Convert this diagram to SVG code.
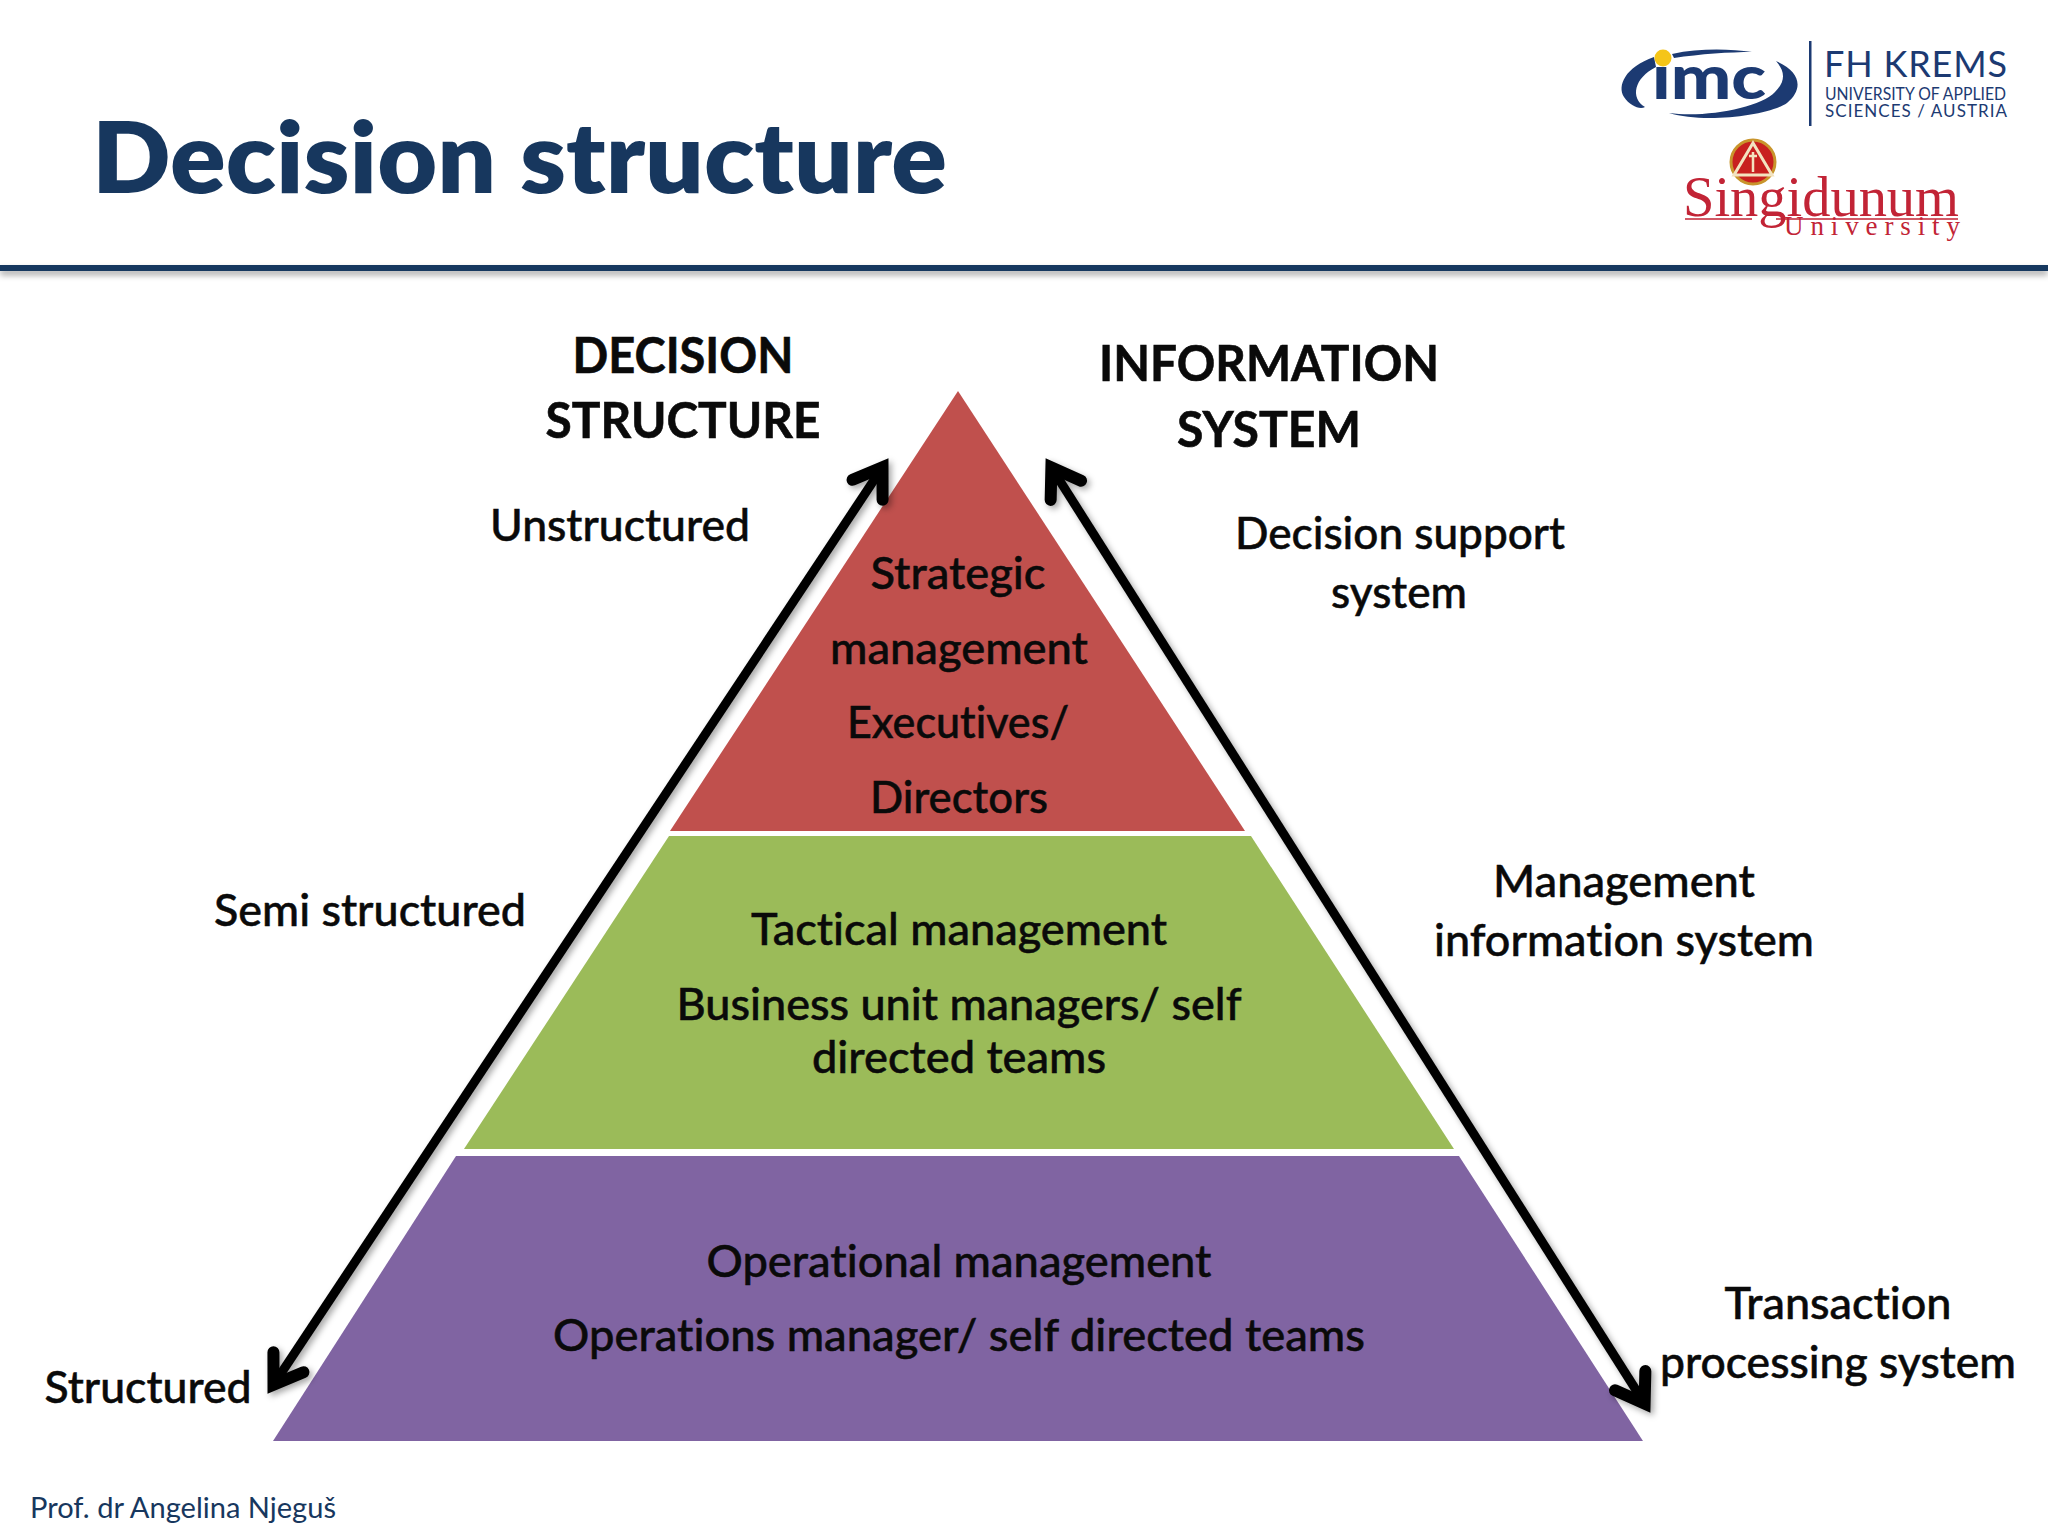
<svg xmlns="http://www.w3.org/2000/svg" width="2048" height="1536" viewBox="0 0 2048 1536">
<style>
text{font-family:"Lato","Noto Sans","Liberation Sans",sans-serif;fill:#0a0a0a;font-variant-ligatures:none}
.l{font-size:44px;font-weight:500;text-anchor:middle;stroke:#0a0a0a;stroke-width:.5px}
.h{font-size:49px;font-weight:700;text-anchor:middle;stroke:#0a0a0a;stroke-width:.6px}
.logo{font-family:"Lato","Liberation Sans",sans-serif;fill:#1c3a72}
.s{font-family:"Liberation Serif",serif;fill:#c22436}
</style>
<defs>
<filter id="sh" x="-10%" y="-10%" width="120%" height="120%"><feDropShadow dx="3" dy="3" stdDeviation="3" flood-color="#000" flood-opacity=".35"/></filter>
<filter id="ls" x="-5%" y="-200%" width="110%" height="500%"><feDropShadow dx="0" dy="4" stdDeviation="3" flood-color="#000" flood-opacity=".35"/></filter>
<marker id="head" markerUnits="userSpaceOnUse" markerWidth="70" markerHeight="70" viewBox="-45 -35 70 70" refX="0" refY="0" orient="auto-start-reverse">
<path d="M-27,-18 L0,0 L-27,18" fill="none" stroke="#000" stroke-width="12" stroke-linecap="round" stroke-linejoin="miter"/>
</marker>
</defs>
<rect width="2048" height="1536" fill="#fff"/>
<rect id="header-rule" x="0" y="265" width="2048" height="6" fill="#17375e" filter="url(#ls)"/>
<text id="title" x="92" y="193" font-size="98" font-weight="800" style="fill:#17375e" textLength="855" lengthAdjust="spacingAndGlyphs">Decision structure</text>

<g id="logo-imc">
<path d="M1654,57 C1625,67 1617,86 1624,97 C1630,106 1640,110 1645,107 C1630,98 1634,78 1656,67 Z" fill="#1c3a72"/>
<path d="M1672,54 C1700,48 1730,49 1752,52 C1730,52 1700,54 1674,58 Z" fill="#1c3a72"/>
<path d="M1776,61 C1802,72 1803,90 1787,103 C1770,115 1705,124 1669,113 C1705,118 1760,108 1775,92 C1786,81 1785,71 1776,61 Z" fill="#1c3a72"/>
<text class="logo" x="1652" y="99" font-size="60" font-weight="900" textLength="114" lengthAdjust="spacingAndGlyphs">imc</text>
<circle cx="1663" cy="58" r="8.5" fill="#f5c518"/>
<rect x="1809" y="41" width="2.5" height="85" fill="#1c3a72"/>
<text class="logo" x="1824" y="77" font-size="36" font-weight="400" textLength="183" lengthAdjust="spacing">FH KREMS</text>
<text class="logo" x="1825" y="100" font-size="17" textLength="181" lengthAdjust="spacingAndGlyphs">UNIVERSITY OF APPLIED</text>
<text class="logo" x="1825" y="117" font-size="17" textLength="182" lengthAdjust="spacing">SCIENCES / AUSTRIA</text>
</g>

<g id="logo-singidunum">
<circle cx="1753" cy="162" r="22" fill="#c8201f" stroke="#c9952c" stroke-width="3"/>
<path d="M1753,143 L1772,175 L1734,175 Z" fill="none" stroke="#f3e3c0" stroke-width="3"/>
<path d="M1753,152 L1753,172 M1749,156 L1757,156" stroke="#f3e3c0" stroke-width="2.5" fill="none"/>
<text class="s" x="1683" y="216" font-size="58" textLength="276" lengthAdjust="spacingAndGlyphs">Singidunum</text>
<path d="M1685,219 H1752 M1776,219 H1958" stroke="#c22436" stroke-width="1.5" fill="none"/>
<text class="s" x="1784" y="235" font-size="27" textLength="176" lengthAdjust="spacing">University</text>
</g>

<g id="tier-strategic">
<path d="M958,391 L1245,831 H670 Z" fill="#c0504d"/>
<text class="l" x="958" y="589" textLength="175" lengthAdjust="spacingAndGlyphs">Strategic</text>
<text class="l" x="959" y="664" textLength="258" lengthAdjust="spacingAndGlyphs">management</text>
<text class="l" x="958" y="738" textLength="222" lengthAdjust="spacingAndGlyphs">Executives/</text>
<text class="l" x="959" y="813" textLength="178" lengthAdjust="spacingAndGlyphs">Directors</text>
</g>
<g id="tier-tactical">
<path d="M669,836 H1251 L1454,1149 H464 Z" fill="#9bbb59"/>
<text class="l" x="959" y="945" textLength="416" lengthAdjust="spacingAndGlyphs">Tactical management</text>
<text class="l" x="959" y="1020" textLength="565" lengthAdjust="spacingAndGlyphs">Business unit managers/ self</text>
<text class="l" x="959" y="1073" textLength="294" lengthAdjust="spacingAndGlyphs">directed teams</text>
</g>
<g id="tier-operational">
<path d="M456,1156 H1459 L1643,1441 H273 Z" fill="#8064a2"/>
<text class="l" x="959" y="1277" textLength="505" lengthAdjust="spacingAndGlyphs">Operational management</text>
<text class="l" x="959" y="1351" textLength="812" lengthAdjust="spacingAndGlyphs">Operations manager/ self directed teams</text>
</g>

<g id="connectors" filter="url(#sh)" fill="none" stroke="#000" stroke-width="9">
<path id="arrow-decision" d="M882.5,467.3 L273.5,1384.7" marker-start="url(#head)" marker-end="url(#head)"/>
<path id="arrow-information" d="M1051.4,467.5 L1644.6,1403.5" marker-start="url(#head)" marker-end="url(#head)"/>
</g>

<g id="heading-decision">
<text class="h" x="683" y="373" textLength="221" lengthAdjust="spacingAndGlyphs">DECISION</text>
<text class="h" x="683" y="438" textLength="275" lengthAdjust="spacingAndGlyphs">STRUCTURE</text>
</g>
<g id="heading-information">
<text class="h" x="1269" y="381" textLength="340" lengthAdjust="spacingAndGlyphs">INFORMATION</text>
<text class="h" x="1269" y="447" textLength="184" lengthAdjust="spacingAndGlyphs">SYSTEM</text>
</g>
<g id="labels-decision">
<text class="l" x="620" y="541" textLength="260" lengthAdjust="spacingAndGlyphs">Unstructured</text>
<text class="l" x="370" y="926" textLength="312" lengthAdjust="spacingAndGlyphs">Semi structured</text>
<text class="l" x="148" y="1403" textLength="207" lengthAdjust="spacingAndGlyphs">Structured</text>
</g>
<g id="labels-information">
<text class="l" x="1400" y="549" textLength="330" lengthAdjust="spacingAndGlyphs">Decision support</text>
<text class="l" x="1399" y="608" textLength="136" lengthAdjust="spacingAndGlyphs">system</text>
<text class="l" x="1624" y="897" textLength="262" lengthAdjust="spacingAndGlyphs">Management</text>
<text class="l" x="1624" y="956" textLength="380" lengthAdjust="spacingAndGlyphs">information system</text>
<text class="l" x="1838" y="1319" textLength="227" lengthAdjust="spacingAndGlyphs">Transaction</text>
<text class="l" x="1838" y="1378" textLength="356" lengthAdjust="spacingAndGlyphs">processing system</text>
</g>
<text id="footer" x="30" y="1518" font-size="29" style="fill:#17375e" textLength="306" lengthAdjust="spacingAndGlyphs">Prof. dr Angelina Njeguš</text>
</svg>
